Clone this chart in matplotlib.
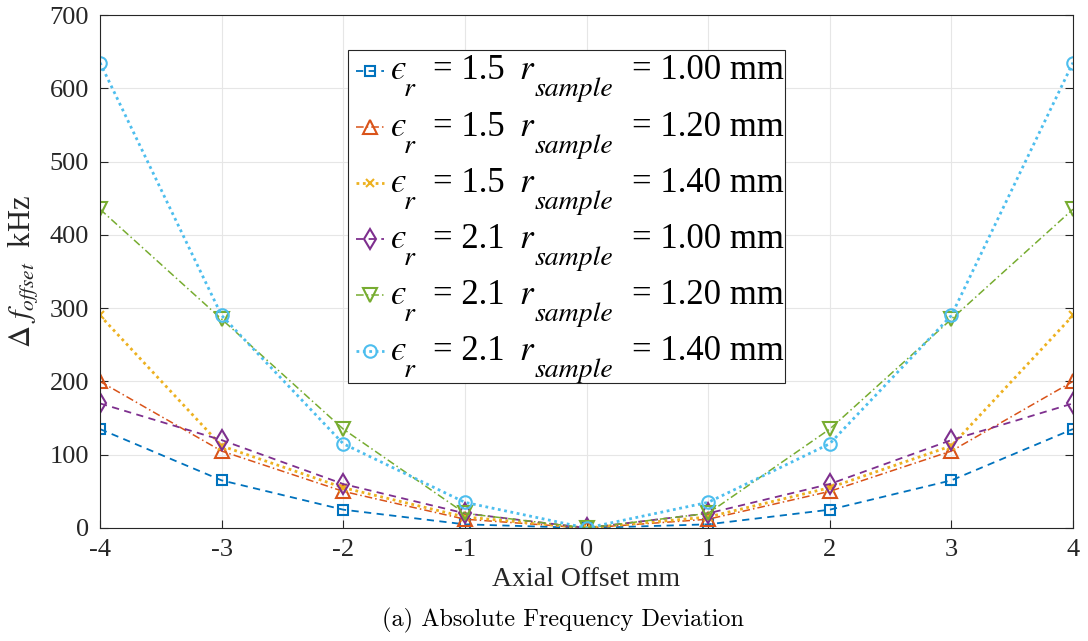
import numpy as np
import matplotlib.pyplot as plt

# axial offset positions (mm)
offset = [-4, -3, -2, -1, 0, 1, 2, 3, 4]

# frequency deviation (kHz) for each permittivity / sample radius
df_e15_r100 = [135, 65, 25, 5, 0, 5, 25, 65, 135]
df_e15_r120 = [200, 105, 50, 12, 0, 12, 50, 105, 200]
df_e15_r140 = [290, 112, 55, 15, 0, 15, 55, 112, 290]
df_e21_r100 = [170, 120, 60, 20, 0, 20, 60, 120, 170]
df_e21_r120 = [435, 285, 135, 20, 0, 20, 135, 285, 435]
df_e21_r140 = [635, 290, 115, 35, 0, 35, 115, 290, 635]

eps_r = ['1.5', '1.5', '1.5', '2.1', '2.1', '2.1']
r_sample = ['1.00', '1.20', '1.40', '1.00', '1.20', '1.40']

plt.rcParams['font.family'] = 'Liberation Serif'
plt.rcParams['mathtext.fontset'] = 'stix'
plt.rcParams['axes.unicode_minus'] = False

fig = plt.figure(figsize=(10.88, 6.41), dpi=100)
ax = fig.add_axes([100 / 1088, 1 - 528 / 641, 973 / 1088, 513 / 641])

styles = [
    (df_e15_r100, '#0072BD', (0, (4, 3)), 's', 1.3),
    (df_e15_r120, '#D95319', (0, (5, 2, 1, 2)), '^', 1.1),
    (df_e15_r140, '#EDB120', (0, (1, 1.3)), 'x', 2.0),
    (df_e21_r100, '#7E2F8E', (0, (4, 3)), 'd', 1.3),
    (df_e21_r120, '#77AC30', (0, (5, 2, 1, 2)), 'v', 1.1),
    (df_e21_r140, '#4DBEEE', (0, (1, 1.3)), 'o', 2.0),
]
sizes = {'s': 7, '^': 10, 'x': 6, 'd': 10, 'v': 10, 'o': 9}

for (vals, col, ls, mk, lw), e, r in zip(styles, eps_r, r_sample):
    lab = r'$\epsilon_r$ = %s  $r_{sample}$ = %s mm' % (e, r)
    ax.plot(offset, vals, color=col, linestyle=ls, linewidth=lw, marker=mk,
            markersize=sizes[mk], markerfacecolor='none', markeredgewidth=1.5,
            label=lab)

ax.set_xlim(-4, 4)
ax.set_ylim(0, 700)
ax.set_xticks(np.arange(-4, 5, 1))
ax.set_yticks(np.arange(0, 701, 100))
ax.grid(True, color='#e6e6e6', linewidth=0.8)
ax.set_axisbelow(True)
ax.tick_params(direction='in', length=6, labelsize=19, colors='#262626',
               top=False, right=True, pad=8)
for sp in ax.spines.values():
    sp.set_color('#262626')
    sp.set_linewidth(0.8)

ax.set_xlabel('Axial Offset mm', fontsize=20, color='#262626', labelpad=4)
ax.set_ylabel(r'$\Delta\ f_{offset}$  kHz', fontsize=22, color='#262626',
              labelpad=6)

leg = ax.legend(loc='upper left', bbox_to_anchor=(0.255, 0.932),
                borderaxespad=0, fontsize=27, frameon=True, fancybox=False,
                edgecolor='#262626', framealpha=1, handlelength=0.75,
                handletextpad=0.3, labelspacing=0.48, borderpad=0.2)
leg.get_frame().set_linewidth(0.8)

# legend text redrawn in pieces so the subscripts sit low, MATLAB style
pieces = [
    # text, x offset px, y offset px, size, italic
    ('\u03f5', -4, -3, 25, True),
    ('r', 9, -20, 20, True),
    ('= {e}', 38, -3, 25, False),
    ('r', 124, -3, 25, True),
    ('sample', 140, -20, 20, True),
    ('= {r} mm', 237, -3, 25, False),
]
for t, e, r in zip(leg.get_texts(), eps_r, r_sample):
    t.set_alpha(0)
    t.set_fontsize(25.8)
    for s, dx, dy, fs, it in pieces:
        kw = dict(family='STIXGeneral', style='italic') if it else {}
        ax.annotate(s.format(e=e, r=r), xy=(0, 0.5), xycoords=t,
                    xytext=(dx, dy), textcoords='offset pixels',
                    va='baseline', ha='left', fontsize=fs, color='black',
                    zorder=10, **kw)

fig.text(563 / 1088, 1 - 620 / 641, '(a) Absolute Frequency Deviation',
         ha='center', va='center', fontsize=17.5, family='cmr10')

fig.savefig('out.png', dpi=100)
